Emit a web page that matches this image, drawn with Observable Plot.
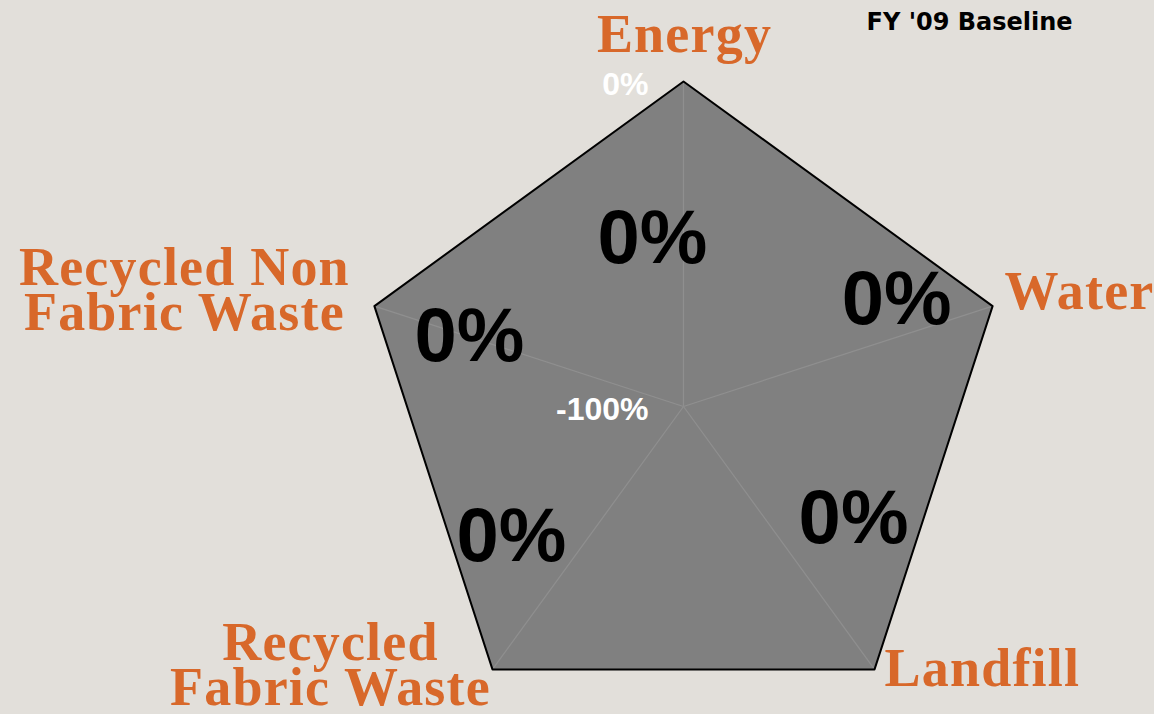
<!DOCTYPE html>
<html><head><meta charset="utf-8">
<script src="https://cdn.jsdelivr.net/npm/d3@7"></script>
<script src="https://cdn.jsdelivr.net/npm/@observablehq/plot@0.6"></script>
<style>
html,body{margin:0;padding:0;background:#e2dfda;overflow:hidden}
g.axis-label text{letter-spacing:1.2px}
</style>
</head><body><div id="chart"></div>
<script>
// ---- data ----
const axes = ["Energy", "Water", "Landfill", "Recycled Fabric Waste", "Recycled Non Fabric Waste"];
const axisLabels = ["Energy", "Water", "Landfill", "Recycled\nFabric Waste", "Recycled Non\nFabric Waste"];
const values = [0, 0, 0, 0, 0];           // % change vs FY '09 baseline
const valueLabels = ["0%", "0%", "0%", "0%", "0%"];
const scaleMin = -100, scaleMax = 0;
const tickValues = [0, -100];
const tickLabels = ["0%", "-100%"];
const title = "FY '09 Baseline";

// ---- layout (not data) ----
const cx = 683, cy = 406, R = 325;
const orange = "#d8682a";
const axisLabelLayout = [
  {anchor: "middle", dx: 1, dy: -44},
  {anchor: "start", dx: 12, dy: -11},
  {anchor: "start", dx: 10, dy: 2},
  {anchor: "middle", dx: -162, dy: -1},
  {anchor: "middle", dx: -190, dy: -13}
];
const valueLabelLayout = [
  {dx: -31, dy: 157}, {dx: -96, dy: -6}, {dx: -21, dy: -151}, {dx: 19, dy: -133}, {dx: 95, dy: 31}
];

const n = axes.length;
const ang = i => Math.PI / 2 - i * 2 * Math.PI / n;
const rad = v => (v - scaleMin) / (scaleMax - scaleMin);
const pts = axes.map((a, i) => ({axis: a, label: axisLabels[i], valueLabel: valueLabels[i],
  x: rad(values[i]) * Math.cos(ang(i)), y: rad(values[i]) * Math.sin(ang(i))}));
const outer = axes.map((a, i) => ({i, label: axisLabels[i], x: Math.cos(ang(i)), y: Math.sin(ang(i))}));
const spokes = axes.map((a, i) => ({x1: 0, y1: 0, x2: Math.cos(ang(i)), y2: Math.sin(ang(i))}));
const ticks = tickValues.map((t, i) => ({label: tickLabels[i], x: rad(t) * Math.cos(ang(0)), y: rad(t) * Math.sin(ang(0))}));

const axisLabelMarks = outer.map((d, i) => Plot.text([d], {
  x: "x", y: "y", text: "label", textAnchor: axisLabelLayout[i].anchor,
  dx: axisLabelLayout[i].dx, dy: axisLabelLayout[i].dy, lineAnchor: "middle", lineHeight: 0.83,
  fill: orange, fontSize: 54, fontWeight: "bold", fontFamily: "Liberation Serif", className: "axis-label"
}));
const valueLabelMarks = pts.map((d, i) => Plot.text([d], {
  x: "x", y: "y", text: "valueLabel", textAnchor: "middle", lineAnchor: "middle",
  dx: valueLabelLayout[i].dx, dy: valueLabelLayout[i].dy,
  fill: "#000", fontSize: 76, fontWeight: "bold", fontFamily: "Liberation Sans"
}));

const chart = Plot.plot({
  width: 1154, height: 714, margin: 0,
  style: {background: "#e2dfda", overflow: "visible"},
  x: {domain: [-1, 1], range: [cx - R, cx + R], axis: null},
  y: {domain: [-1, 1], range: [cy + R, cy - R], axis: null},
  marks: [
    Plot.line(pts, {x: "x", y: "y", curve: "linear-closed", fill: "#808080", stroke: "none"}),
    Plot.link(spokes, {x1: "x1", y1: "y1", x2: "x2", y2: "y2", stroke: "#8f8f8f", strokeWidth: 1.2}),
    Plot.line(pts, {x: "x", y: "y", curve: "linear-closed", fill: "none", stroke: "#000", strokeWidth: 2}),
    Plot.text(ticks, {x: "x", y: "y", text: "label", textAnchor: "end", lineAnchor: "middle", dx: -35, dy: 3,
      fill: "#fff", fontSize: 32, fontWeight: "bold", fontFamily: "Liberation Sans"}),
    ...valueLabelMarks,
    ...axisLabelMarks,
    Plot.text([title], {frameAnchor: "top-left", dx: 866, dy: 12, lineAnchor: "top", textAnchor: "start",
      fill: "#000", fontSize: 24, fontWeight: "bold", fontFamily: "DejaVu Sans"})
  ]
});
document.getElementById("chart").appendChild(chart);
</script>
</body></html>
